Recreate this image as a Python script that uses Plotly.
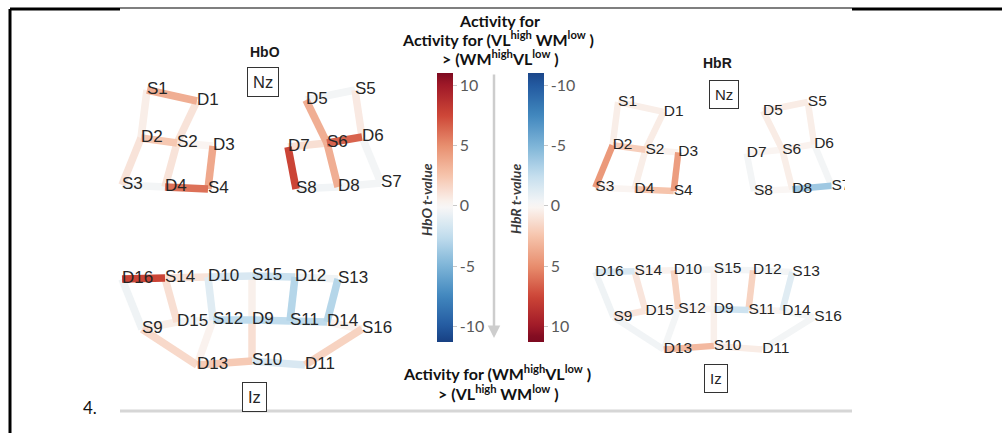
import numpy as np
import plotly.graph_objects as go

# ---------------------------------------------------------------------------
# Montage: optode positions (x to the right, y up), shared by both maps
# ---------------------------------------------------------------------------
optode_names = ["S1", "D1", "D2", "S2", "D3", "S3", "D4", "S4",
                "D5", "S5", "D7", "S6", "D6", "S8", "D8", "S7",
                "D16", "S14", "D10", "S15", "D12", "S13",
                "S9", "D15", "S12", "D9", "S11", "D14", "S16",
                "D13", "S10", "D11"]
optode_x = [-108, -58, -114, -78, -42, -133, -90, -47,
            51, 100, 33, 72, 107, 41, 83, 126,
            -133, -90, -47, -3, 40, 83,
            -113, -78, -42, -3, 35, 72, 107,
            -58, -3, 50]
optode_y = [150, 139, 102, 97, 94, 55, 53, 51,
            140, 150, 93, 97, 103, 51, 53, 57,
            -39, -38, -37, -36, -37, -39,
            -89, -82, -80, -80, -81, -82, -89,
            -125, -121, -125]

landmark_names = ["Nz", "Iz"]
landmark_x = [8, -1]
landmark_y = [158, -157]

# ---------------------------------------------------------------------------
# Channels (source-detector pairs) and their t-values
# ---------------------------------------------------------------------------
ch_source = ["S1", "S1", "S2", "S2", "S2", "S2", "S3", "S3", "S4", "S4",
             "S5", "S5", "S6", "S6", "S6", "S6", "S7", "S7", "S8", "S8",
             "S14", "S14", "S14", "S9", "S9", "S9", "S15", "S15", "S15",
             "S12", "S12", "S12", "S12", "S13", "S13", "S11", "S11", "S11",
             "S16", "S16", "S10", "S10", "S10"]
ch_detector = ["D1", "D2", "D1", "D2", "D3", "D4", "D2", "D4", "D3", "D4",
               "D5", "D6", "D5", "D6", "D7", "D8", "D6", "D8", "D7", "D8",
               "D16", "D10", "D15", "D16", "D15", "D13", "D10", "D12", "D9",
               "D10", "D15", "D9", "D13", "D12", "D14", "D12", "D9", "D14",
               "D14", "D11", "D13", "D9", "D11"]
hbo_t = [3.5, 0.5, 1.0, 2.3, 0.2, 1.0, 1.0, -0.3, 3.8, 6.0,
         -0.3, 0.7, 3.5, 6.5, 1.2, 3.5, -0.3, -0.3, 7.6, -0.4,
         7.6, 1.0, 1.2, -0.5, 0.5, 1.5, -1.5, -2.2, 0.4,
         -1.2, -0.3, -2.6, 0.3, -0.5, -3.0, -3.0, -2.6, -2.6,
         0.3, 1.8, 2.2, 1.2, -1.5]
hbr_t = [0.5, 0.5, 0.6, 2.0, 0.3, 0.5, 4.5, 0.2, 4.3, 2.5,
         0.6, 0.5, 0.6, 0.3, 0.2, 0.5, -0.3, -3.8, -0.3, 0.1,
         -1.5, 0.3, 0.9, -0.5, 0.9, -0.4, -0.3, -0.3, 0.3,
         1.8, 0.2, 0.2, -0.3, -0.3, -1.2, 1.8, -2.0, 0.2,
         -0.3, -0.3, 3.0, 0.4, 0.6]

# colour map (t-value -> rgb)
cmap_t = [-11.3, -10, -7.5, -5, -2.5, 0, 2.5, 5, 7.5, 10, 11]
cmap_rgb = [(24, 64, 130), (35, 90, 160), (65, 135, 190), (125, 180, 215),
            (195, 222, 238), (250, 248, 247), (246, 196, 172), (232, 142, 110),
            (205, 70, 55), (160, 25, 40), (125, 10, 32)]
T_MIN, T_MAX = -11.3, 11.0


def t_color(t):
    t = float(np.clip(t, cmap_t[0], cmap_t[-1]))
    rgb = [np.interp(t, cmap_t, [c[k] for c in cmap_rgb]) for k in range(3)]
    return "rgb({:.0f},{:.0f},{:.0f})".format(*rgb)


def scale_for(sign):
    pos = np.linspace(0, 1, 45)
    return [[float(p), t_color(sign * (T_MIN + p * (T_MAX - T_MIN)))] for p in pos]


W, H = 1002, 433


def px(x):
    return x / W


def py(y):
    return 1 - y / H


pos = {n: (x, y) for n, x, y in zip(optode_names, optode_x, optode_y)}

fig = go.Figure()

panels = [
    dict(t=hbo_t, xa="x", ya="y", width=7.5, font=17, sign=1, cax="coloraxis"),
    dict(t=hbr_t, xa="x2", ya="y2", width=6.5, font=15.5, sign=-1, cax="coloraxis2"),
]

for p in panels:
    order = np.argsort(np.abs(p["t"]))
    for i in order:
        s, d = ch_source[i], ch_detector[i]
        fig.add_trace(go.Scatter(
            x=[pos[s][0], pos[d][0]], y=[pos[s][1], pos[d][1]],
            mode="lines", line=dict(color=t_color(p["t"][i]), width=p["width"]),
            xaxis=p["xa"], yaxis=p["ya"], hoverinfo="skip", showlegend=False))
    # invisible markers carrying the t-values for the colour bar
    mid_x = [(pos[s][0] + pos[d][0]) / 2 for s, d in zip(ch_source, ch_detector)]
    mid_y = [(pos[s][1] + pos[d][1]) / 2 for s, d in zip(ch_source, ch_detector)]
    fig.add_trace(go.Scatter(
        x=mid_x, y=mid_y, mode="markers",
        marker=dict(color=[p["sign"] * v for v in p["t"]], coloraxis=p["cax"],
                    size=2, opacity=0),
        xaxis=p["xa"], yaxis=p["ya"], hoverinfo="skip", showlegend=False))
    fig.add_trace(go.Scatter(
        x=optode_x, y=optode_y, mode="text", text=optode_names,
        textposition="middle right", marker=dict(size=1),
        textfont=dict(family="Liberation Sans, Arial, sans-serif",
                      size=p["font"], color="#262626"),
        xaxis=p["xa"], yaxis=p["ya"], hoverinfo="skip", showlegend=False,
        cliponaxis=True))
    for name, lx, ly in zip(landmark_names, landmark_x, landmark_y):
        fig.add_annotation(x=lx, y=ly, xref=p["xa"], yref=p["ya"], text=name,
                           showarrow=False, bordercolor="#333333", borderwidth=1,
                           borderpad=5, bgcolor="white",
                           xanchor="center", yanchor="middle",
                           font=dict(family="Liberation Sans, Arial, sans-serif",
                                     size=p["font"] - 0.5, color="#262626"))

tick_vals = [10, 5, 0, -5, -10]
cbar_common = dict(thickness=16, len=269, lenmode="pixels", y=py(207.5),
                   yanchor="middle", xanchor="left", xpad=0, ypad=0,
                   outlinewidth=0, ticks="outside", ticklen=4,
                   tickcolor="#c8c8c8", tickvals=tick_vals,
                   tickfont=dict(family="Lato, Calibri, sans-serif", size=16,
                                 color="#595959"))
fig.update_layout(
    coloraxis=dict(cmin=T_MIN, cmax=T_MAX, colorscale=scale_for(1),
                   colorbar=dict(x=px(437),
                                 ticktext=[str(v) for v in tick_vals],
                                 **cbar_common)),
    coloraxis2=dict(cmin=T_MIN, cmax=T_MAX, colorscale=scale_for(-1),
                    colorbar=dict(x=px(528),
                                  ticktext=[str(-v) for v in tick_vals],
                                  **cbar_common)),
)

axis_off = dict(visible=False, showgrid=False, zeroline=False, fixedrange=True)
fig.update_layout(
    width=W, height=H, margin=dict(l=0, r=0, t=0, b=0),
    paper_bgcolor="white", plot_bgcolor="rgba(0,0,0,0)",
    xaxis=dict(domain=[0, 1], range=[-255, 747], **axis_off),
    yaxis=dict(domain=[0, 1], range=[-193, 240], **axis_off),
    xaxis2=dict(domain=[px(575), px(845)], range=[-155.26, 140.79],
                anchor="y2", **axis_off),
    yaxis2=dict(domain=[0, 1], range=[-217.8, 263.3], anchor="x2", **axis_off),
    showlegend=False,
)


def label(text, x, y, font, angle=0):
    fig.add_annotation(x=px(x), y=py(y), xref="paper", yref="paper",
                       text=text, showarrow=False, font=font, textangle=angle,
                       xanchor="center", yanchor="middle")


# panel headings
head_font = dict(family="Liberation Sans, Arial, sans-serif", size=14,
                 color="#1a1a1a")
label("<b>HbO</b>", 265, 52, head_font)
label("<b>HbR</b>", 717, 63, head_font)

# contrast captions around the colour bars
cap_font = dict(family="Lato, Calibri, sans-serif", size=16, color="#111111")
captions = [
    ("<b>Activity for</b>", 499, 20),
    ("<b>Activity for (VL<sup>high</sup> WM<sup>low</sup> )</b>", 498, 39),
    ("<b>&gt; (WM<sup>high</sup>VL<sup>low</sup> )</b>", 500, 57),
    ("<b>Activity for (WM<sup>high</sup>VL<sup>low</sup> )</b>", 497, 372),
    ("<b>&gt; (VL<sup>high</sup> WM<sup>low</sup> )</b>", 498, 392),
]
for txt, cx, cy in captions:
    label(txt, cx, cy, cap_font)

# colour bar titles
ttl_font = dict(family="Lato, Calibri, sans-serif", size=14, color="#3a3a3a")
label("<b><i>HbO t-value</i></b>", 427, 200, ttl_font, angle=-90)
label("<b><i>HbR t-value</i></b>", 515, 199, ttl_font, angle=-90)

# downward arrow between the bars
fig.add_annotation(x=px(494), y=py(338), xref="paper", yref="paper",
                   ax=0, ay=-265, text="", showarrow=True, arrowhead=2,
                   arrowsize=1, arrowwidth=2.5, arrowcolor="#cdcdcd")

# figure number
label("4.", 90, 407, dict(family="Lato, Calibri, sans-serif", size=17,
                          color="#111111"))

# frame lines
frame = [
    (10, 9, 120, 9, 3, "black"),
    (120, 8, 852, 8, 1.2, "black"),
    (852, 9, 1002, 9, 3, "black"),
    (10, 9, 10, 433, 3, "black"),
    (120, 411, 852, 411, 3, "#d6d6d6"),
]
for x0, y0, x1, y1, w, c in frame:
    fig.add_shape(type="line", xref="paper", yref="paper",
                  x0=px(x0), y0=py(y0), x1=px(x1), y1=py(y1),
                  line=dict(color=c, width=w))

fig.write_html("out.html", config={"displayModeBar": False})
